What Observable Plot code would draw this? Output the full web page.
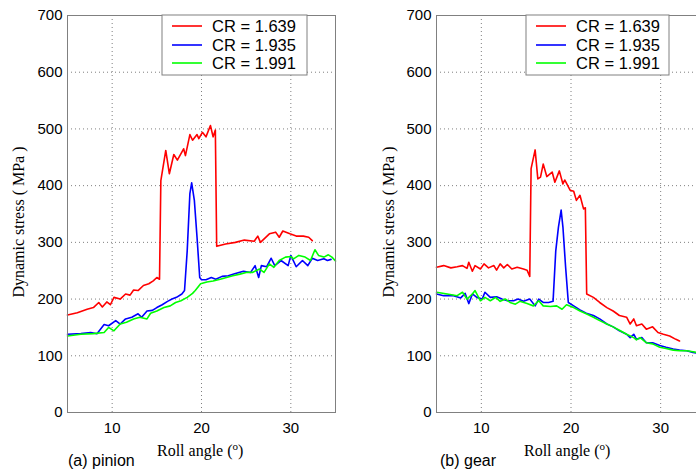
<!DOCTYPE html>
<html><head><meta charset="utf-8">
<script src="https://cdn.jsdelivr.net/npm/d3@7"></script>
<script src="https://cdn.jsdelivr.net/npm/@observablehq/plot@0.6"></script>
<style>
html,body{margin:0;padding:0;background:#fff;overflow:hidden}
#wrap{position:relative;width:696px;height:472px;overflow:hidden;background:#fff}
#wrap svg{position:absolute;top:0}
</style></head><body><div id="wrap"></div>
<script>
// ---- data ----
const crLabels = ["CR = 1.639", "CR = 1.935", "CR = 1.991"];
const crColors = ["#ff0000", "#0000ff", "#00ff00"];
const xTicks = [10, 20, 30];
const yTicks = [0, 100, 200, 300, 400, 500, 600, 700];

// (a) pinion
const pinionRedX = [5,6.1,7.2,7.9,8.5,8.9,9.4,9.8,10.2,10.9,11.5,12,12.4,12.9,13.5,14.1,14.6,15,15.3,15.45,16,16.4,16.9,17.3,18,18.2,18.7,19,19.5,19.7,20.1,20.5,21,21.3,21.55,21.7,22.7,23.8,24.8,25.9,26.3,26.6,27.6,28.3,28.7,29.1,29.9,30.6,31.4,32,32.4];
const pinionRedY = [172,176,182,185,194,186,195,190,203,200,209,207,216,215,224,227,232,238,235,409,462,421,455,445,465,453,490,480,490,483,494,486,506,486,498,293,297,300,304,302,311,300,315,318,309,320,315,311,311,309,303];
const pinionBlueX = [5,6.5,7.6,8.3,9.1,9.6,10.4,10.9,11.5,12.2,12.9,13.3,13.9,14.5,15,15.6,16.2,16.7,17.2,17.8,18.1,18.4,18.7,18.9,19.2,19.5,19.8,20,20.5,21.1,21.6,22.3,23,23.8,24.7,25.5,26,26.4,26.7,27.3,27.8,28.2,28.9,29.7,30,30.6,31.3,31.9,32.4,33,33.7,34.1,34.5];
const pinionBlueY = [138,139,141,139,155,153,162,156,165,168,174,168,179,180,185,190,196,200,203,209,215,285,386,405,374,309,238,234,234,238,235,240,241,245,249,247,259,238,259,257,272,259,268,259,277,257,268,259,272,268,271,268,270];
const pinionGreenX = [5,6.5,7.9,9.1,9.6,10.2,10.9,11.6,12.4,13.1,13.9,14.3,15,15.8,16.5,17.1,17.7,18.4,19,19.3,19.9,20.6,21.3,22.1,22.8,23.5,24.3,25,25.7,26.5,27,27.6,28.1,28.7,29.4,30,30.3,30.9,31.6,32.2,32.7,33.1,33.7,34.2,34.6,35];
const pinionGreenY = [135,138,139,141,150,144,156,159,165,168,165,175,179,185,188,194,197,203,210,215,227,230,232,235,238,241,244,247,247,253,247,262,256,268,274,275,271,277,274,268,287,277,274,278,274,267];

// (b) gear
const gearRedX = [5,5.8,6.6,7.3,7.9,8.4,8.6,9,9.3,9.9,10.3,10.8,11.4,11.7,12.1,12.5,12.9,13.4,14,14.7,15.1,15.4,15.55,16,16.3,16.6,16.9,17.3,17.9,18.2,18.7,19.1,19.3,19.9,20.3,20.6,21,21.4,21.6,21.75,22.5,23.2,24,24.7,25.4,26.2,26.6,27,27.3,27.9,28.4,29.1,29.7,30.3,31,31.7,32.1];
const gearRedY = [256,259,255,257,259,254,265,249,259,253,262,255,259,251,262,255,261,253,256,253,251,240,430,463,412,415,438,416,424,406,426,403,410,392,390,374,383,359,361,209,203,194,185,179,171,168,156,165,153,156,147,151,141,138,135,129,126];
const gearBlueX = [5,5.8,6.9,7.7,8.2,8.6,9,9.5,10.1,10.4,11,11.7,12.3,12.9,13.6,14.1,14.7,15.4,16,16.4,16.9,17.5,18,18.3,18.6,18.9,19.1,19.4,19.7,20.3,21,21.7,22.5,23.2,24,24.7,25.4,26.2,26.6,27,27.3,27.9,28.4,29.1,29.9,30.6,31.4,32.1,32.9,33.6,34.3,35];
const gearBlueY = [209,206,206,202,210,192,209,203,200,212,203,204,200,197,197,200,196,200,188,200,194,194,196,285,327,357,327,256,194,188,181,175,171,165,156,151,144,138,132,138,129,132,123,123,118,115,112,110,109,106,104,103];
const gearGreenX = [5,6.2,7.3,7.9,8.4,9,9.3,9.9,10.4,11,11.6,12.1,12.7,13.2,13.8,14.3,15.1,15.8,16.4,16.9,17.7,18.4,19,19.5,20.3,21,21.7,22.5,23.2,24,24.7,25.4,26.2,27,27.3,27.7,28.4,29.1,29.9,30.6,31.4,32.1,32.9,33.6,34.3,35];
const gearGreenY = [212,209,206,212,200,209,215,197,203,197,203,196,200,194,191,196,192,188,197,188,187,188,182,190,185,179,174,168,162,156,151,145,138,132,128,132,123,121,115,113,110,109,109,107,105,102];

const panelTags = ["(a) pinion", "(b) gear"];
const yLabel = "Dynamic stress ( MPa )";
const xLabel = "Roll angle (";

// ---- drawing ----
function rows(xs, ys, s) { return xs.map((x, i) => ({x, y: ys[i], s})); }

function panel(cfg) {
  const data = [
    ...rows(cfg.rx, cfg.ry, crLabels[0]),
    ...rows(cfg.bx, cfg.by, crLabels[1]),
    ...rows(cfg.gx, cfg.gy, crLabels[2])
  ];
  const svg = Plot.plot({
    width: cfg.width, height: 472,
    marginLeft: 67, marginRight: cfg.marginRight, marginTop: 15, marginBottom: 60,
    style: {fontFamily: "'Liberation Sans', Arial, sans-serif", fontSize: "15px", color: "#000", background: "transparent", overflow: "visible"},
    x: {domain: [5, 35]},
    y: {domain: [0, 700]},
    color: {domain: crLabels, range: crColors},
    marks: [
      Plot.gridX({ticks: xTicks, stroke: "#7f7f7f", strokeOpacity: 1, strokeDasharray: "1,3"}),
      Plot.gridY({ticks: yTicks, stroke: "#7f7f7f", strokeOpacity: 1, strokeDasharray: "1,3"}),
      Plot.line(data, {x: "x", y: "y", z: "s", stroke: "s", strokeWidth: 1.6}),
      Plot.frame({stroke: "#808080"}),
      Plot.axisX({ticks: xTicks, tickSize: 0, tickPadding: 10, label: null}),
      Plot.axisY({ticks: yTicks, tickSize: 0, tickPadding: 5, label: null})
    ]
  });
  svg.style.left = cfg.left + "px";
  const s = d3.select(svg);
  // y label
  s.append("text")
    .attr("transform", `translate(${cfg.ylabX},222) rotate(-90)`)
    .attr("text-anchor", "middle").attr("dy", "0.35em")
    .style("font-family", "'Liberation Serif', 'Times New Roman', serif").style("font-size", "16px")
    .text(yLabel);
  // x label with superscript o
  const xl = s.append("text")
    .attr("x", cfg.xlabX).attr("y", 456).attr("text-anchor", "start")
    .style("font-family", "'Liberation Serif', 'Times New Roman', serif").style("font-size", "16px");
  xl.append("tspan").text(xLabel);
  xl.append("tspan").attr("dy", "-6").style("font-size", "11px").text("o");
  xl.append("tspan").attr("dy", "6").text(")");
  // panel tag
  s.append("text").attr("x", cfg.tagX).attr("y", 466).attr("text-anchor", "start")
    .style("font-family", "'Liberation Sans', Arial, sans-serif").style("font-size", "16px")
    .text(cfg.tag);
  // legend
  const lg = s.append("g");
  lg.append("rect").attr("x", cfg.lgX).attr("y", 15).attr("width", cfg.lgW).attr("height", 60)
    .attr("fill", "#fff").attr("stroke", "#808080");
  crLabels.forEach((lab, i) => {
    const cy = [26, 45, 63][i];
    lg.append("line").attr("x1", cfg.lgX + 10).attr("x2", cfg.lgX + 40).attr("y1", cy).attr("y2", cy)
      .attr("stroke", crColors[i]).attr("stroke-width", 1.6);
    lg.append("text").attr("x", cfg.lgX + 50).attr("y", cy).attr("dy", "0.36em").attr("text-anchor", "start")
      .style("font-family", "'Liberation Sans', Arial, sans-serif").style("font-size", "16.5px")
      .text(lab);
  });
  return svg;
}

const wrap = document.getElementById("wrap");
wrap.appendChild(panel({
  rx: pinionRedX, ry: pinionRedY, bx: pinionBlueX, by: pinionBlueY, gx: pinionGreenX, gy: pinionGreenY,
  left: 0, width: 350, marginRight: 15, ylabX: 18, xlabX: 157, tagX: 68, tag: panelTags[0], lgX: 162, lgW: 145
}));
wrap.appendChild(panel({
  rx: gearRedX, ry: gearRedY, bx: gearBlueX, by: gearBlueY, gx: gearGreenX, gy: gearGreenY,
  left: 369, width: 351, marginRight: 15, ylabX: 19, xlabX: 155, tagX: 71, tag: panelTags[1], lgX: 157, lgW: 143
}));
</script></body></html>
